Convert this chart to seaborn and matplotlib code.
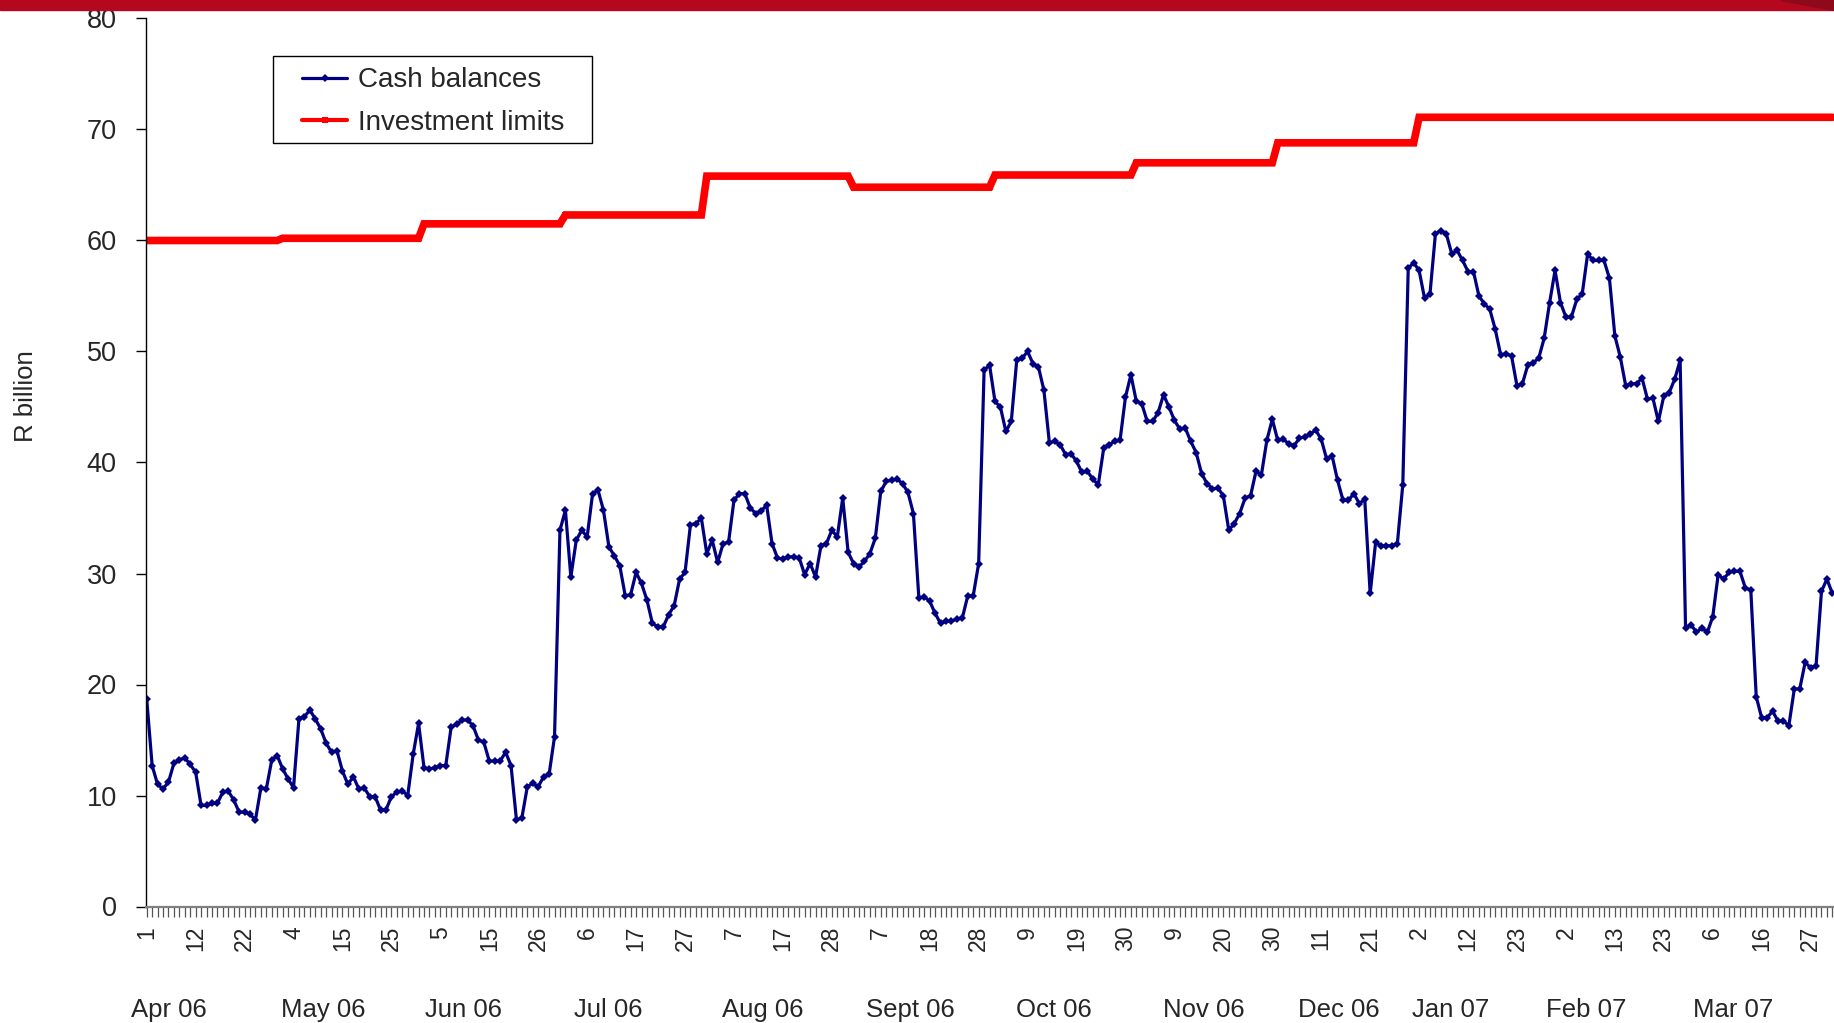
import numpy as np
import pandas as pd
import matplotlib
matplotlib.use("Agg")
import matplotlib.pyplot as plt
from matplotlib.lines import Line2D
from matplotlib.patches import Rectangle, Polygon
import seaborn as sns

# Daily exchequer cash balances, R billion (one value per trading day, Apr 2006 - Mar 2007)
cash_apr_jun = [18.7, 12.7, 11.0, 10.6, 11.2, 12.9, 13.2, 13.4, 12.8, 12.1,
                9.1, 9.1, 9.3, 9.3, 10.3, 10.4, 9.6, 8.5, 8.5, 8.3,
                7.8, 10.7, 10.6, 13.2, 13.6, 12.4, 11.5, 10.7, 16.9, 17.1,
                17.7, 16.9, 16.0, 14.7, 13.9, 14.0, 12.2, 11.0, 11.7, 10.6,
                10.7, 9.9, 9.9, 8.7, 8.7, 9.9, 10.3, 10.4, 10.0, 13.7,
                16.5, 12.5, 12.4, 12.5, 12.7, 12.7, 16.2, 16.4, 16.8, 16.8,
                16.3, 15.0, 14.8, 13.1, 13.1, 13.1, 13.9, 12.7, 7.8, 8.0,
                10.8, 11.1, 10.8, 11.7, 11.9, 15.3]
cash_jul_sep = [33.9, 35.7, 29.7, 33.0, 33.9, 33.3, 37.2, 37.5, 35.7, 32.4,
                31.6, 30.7, 28.0, 28.1, 30.1, 29.1, 27.6, 25.5, 25.2, 25.2,
                26.3, 27.1, 29.5, 30.1, 34.4, 34.5, 35.0, 31.8, 33.0, 31.0,
                32.7, 32.8, 36.6, 37.2, 37.2, 35.9, 35.4, 35.6, 36.2, 32.7,
                31.4, 31.3, 31.5, 31.5, 31.4, 29.9, 30.9, 29.7, 32.5, 32.7,
                33.9, 33.3, 36.8, 31.9, 30.9, 30.6, 31.1, 31.8, 33.2, 37.4,
                38.3, 38.4, 38.5, 38.1, 37.3, 35.4, 27.8, 27.9, 27.5, 26.4,
                25.5, 25.7, 25.7, 25.9, 26.0, 28.0, 28.0, 30.9]
cash_oct_dec = [48.3, 48.8, 45.5, 45.0, 42.8, 43.7, 49.2, 49.4, 50.0, 48.9,
                48.6, 46.5, 41.8, 41.9, 41.6, 40.7, 40.8, 40.1, 39.1, 39.2,
                38.5, 38.0, 41.3, 41.6, 41.9, 42.0, 45.9, 47.9, 45.5, 45.3,
                43.7, 43.7, 44.5, 46.1, 45.0, 43.8, 43.0, 43.1, 41.9, 40.9,
                39.0, 38.1, 37.6, 37.7, 37.0, 33.9, 34.5, 35.4, 36.8, 37.0,
                39.2, 38.9, 42.0, 43.9, 42.0, 42.1, 41.7, 41.5, 42.2, 42.3,
                42.6, 42.9, 42.1, 40.3, 40.6, 38.4, 36.6, 36.6, 37.2, 36.3,
                36.7, 28.2, 32.8, 32.5, 32.5, 32.5, 32.7, 38.0]
cash_jan_mar = [57.5, 58.0, 57.3, 54.8, 55.2, 60.6, 60.9, 60.6, 58.8, 59.1,
                58.2, 57.2, 57.2, 55.0, 54.3, 53.8, 52.0, 49.7, 49.8, 49.6,
                46.9, 47.1, 48.8, 49.0, 49.4, 51.2, 54.4, 57.3, 54.4, 53.1,
                53.1, 54.7, 55.2, 58.8, 58.2, 58.2, 58.2, 56.6, 51.4, 49.5,
                46.9, 47.1, 47.1, 47.6, 45.7, 45.8, 43.7, 46.0, 46.3, 47.5,
                49.2, 25.1, 25.4, 24.7, 25.1, 24.7, 26.1, 29.9, 29.5, 30.1,
                30.2, 30.2, 28.7, 28.5, 18.9, 17.0, 17.0, 17.6, 16.7, 16.7,
                16.3, 19.6, 19.6, 22.0, 21.5, 21.7, 28.4, 29.5, 28.2]

# Monthly investment limits and the number of daily points in each month
limit_values = [60.0, 60.2, 61.5, 62.3, 65.8, 64.8, 65.9, 67.0, 68.8, 71.1, 71.1, 71.1]
points_per_month = [25, 26, 26, 26, 27, 26, 26, 26, 26, 26, 24, 27]

day_labels = ["1", "12", "22", "4", "15", "25", "5", "15", "26", "6", "17", "27",
              "7", "17", "28", "7", "18", "28", "9", "19", "30", "9", "20", "30",
              "11", "21", "2", "12", "23", "2", "13", "23", "6", "16", "27"]
month_labels = ["Apr 06", "May 06", "Jun 06", "Jul 06", "Aug 06", "Sept 06",
                "Oct 06", "Nov 06", "Dec 06", "Jan 07", "Feb 07", "Mar 07"]
month_label_x = [4.0, 32.4, 58.2, 84.9, 113.3, 140.4, 166.8, 194.4, 219.3,
                 239.8, 264.7, 291.8]
series_names = ["Cash balances", "Investment limits"]

cash = cash_apr_jun + cash_jul_sep + cash_oct_dec + cash_jan_mar
limits = np.repeat(limit_values, points_per_month)
n = min(len(cash), len(limits))
df = pd.DataFrame({"day": np.arange(n),
                   series_names[0]: cash[:n],
                   series_names[1]: limits[:n]})

sns.set_style("white")
plt.rcParams["font.family"] = ["Liberation Sans", "DejaVu Sans"]

W, H = 1834, 1023
fig = plt.figure(figsize=(W / 100, H / 100), dpi=100)
ax_left, ax_bottom, ax_top = 146, 906.5, 18.5
ax_w, ax_h = W - ax_left, ax_bottom - ax_top
ax = fig.add_axes([ax_left / W, 1 - ax_bottom / H, ax_w / W, ax_h / H])

NAVY = "#000080"
RED = "#FF0000"

sns.lineplot(data=df, x="day", y=series_names[1], ax=ax, color=RED,
             lw=5.5, marker="s", markersize=4, markeredgewidth=0,
             solid_joinstyle="miter", estimator=None, legend=False)
sns.lineplot(data=df, x="day", y=series_names[0], ax=ax, color=NAVY,
             lw=2.3, marker="D", markersize=4.5, markeredgewidth=0,
             estimator=None, legend=False)

ax.set_xlim(-0.13, 310.3)
ax.set_ylim(0, 80)
ax.set_yticks(np.arange(0, 81, 10))
ax.set_xticks(np.arange(0, 9 * len(day_labels), 9))
ax.set_xticklabels(day_labels, rotation=90, fontsize=16.5)
ax.set_xticks(np.arange(0, n), minor=True)
ax.tick_params(axis="y", labelsize=19.5, length=7, width=1, color="black",
               pad=14, left=True, direction="out")
ax.tick_params(axis="x", which="both", length=7, width=0.9, color="#555555",
               pad=7, bottom=True, direction="out")
ax.set_xlabel("")
ax.set_ylabel("")

for side in ("top", "right"):
    ax.spines[side].set_visible(False)
ax.spines["left"].set_color("black")
ax.spines["left"].set_linewidth(1.0)
ax.spines["bottom"].set_color("#808080")
ax.spines["bottom"].set_linewidth(1.6)

fig.text(25.7 / W, 1 - 396.5 / H, "R billion", rotation=90, ha="center",
         va="center", fontsize=18.5)

for x, lab in zip(month_label_x, month_labels):
    ax.text(x, -0.117, lab, transform=ax.get_xaxis_transform(),
            ha="center", va="center", fontsize=18.5)

# Legend: framed box with the two series keys
box_x0, box_y0, box_x1, box_y1 = 272.5, 56, 592, 143
ax.add_patch(Rectangle(((box_x0 - ax_left) / ax_w, (ax_bottom - box_y1) / ax_h),
                       (box_x1 - box_x0) / ax_w, (box_y1 - box_y0) / ax_h,
                       transform=ax.transAxes, facecolor="white",
                       edgecolor="black", lw=1.0, zorder=5))
handles = [Line2D([], [], color=NAVY, lw=2.3, marker="D", markersize=4.5,
                  markeredgewidth=0),
           Line2D([], [], color=RED, lw=3, marker="s", markersize=5,
                  markeredgewidth=0)]
leg = ax.legend(handles, series_names, loc="upper left",
                bbox_to_anchor=((294 - ax_left) / ax_w, (ax_bottom - 59) / ax_h),
                fontsize=20, frameon=False, borderpad=0.3, labelspacing=0.6,
                handlelength=1.6, handletextpad=0.4, borderaxespad=0)
leg.set_zorder(6)

# Corporate band across the top edge
fig.patches.append(Rectangle((0, 1 - 10 / H), 1, 10 / H, transform=fig.transFigure,
                             color="#B5081E", zorder=10))
fig.patches.append(Polygon([(1780 / W, 1), (1, 1), (1, 1 - 10 / H)],
                           closed=True, transform=fig.transFigure,
                           color="#8E0A1A", zorder=11))

fig.savefig("out.png", dpi=100)
